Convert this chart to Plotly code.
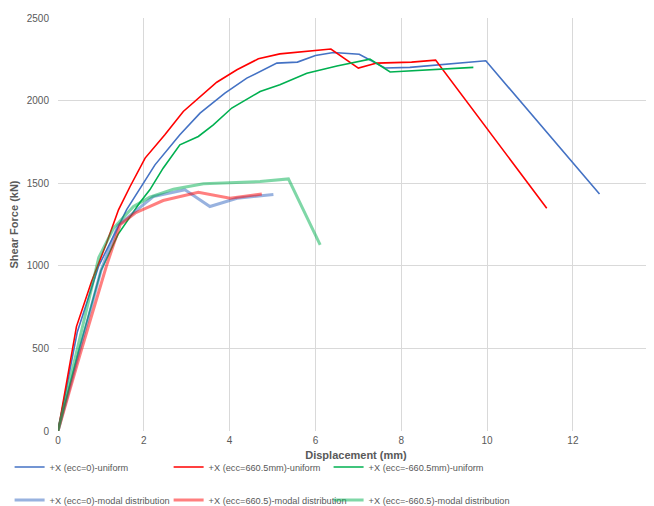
import plotly.graph_objects as go

# +X (ecc=0)-uniform
x_ecc0_uni = [0, 0.45, 0.95, 1.6, 2.26, 2.84, 3.31, 3.89, 4.4, 5.1, 5.58, 6.0, 6.42, 7.02, 7.62, 8.2, 9.97, 12.62]
y_ecc0_uni = [0, 600, 1000, 1340, 1611, 1793, 1924, 2045, 2136, 2227, 2233, 2273, 2291, 2281, 2197, 2201, 2241, 1434]

# +X (ecc=660.5mm)-uniform
x_pos_uni = [0, 0.43, 0.78, 1.13, 1.41, 1.68, 2.03, 2.49, 2.92, 3.31, 3.70, 4.17, 4.67, 5.17, 5.64, 6.36, 7.0, 7.43, 8.24, 8.8, 11.39]
y_pos_uni = [0, 632, 904, 1137, 1339, 1480, 1652, 1793, 1934, 2025, 2111, 2187, 2253, 2283, 2294, 2312, 2197, 2227, 2233, 2245, 1349]

# +X (ecc=-660.5mm)-uniform
x_neg_uni = [0, 0.5, 1.0, 1.4, 1.9, 2.14, 2.45, 2.84, 3.27, 3.62, 4.05, 4.71, 5.17, 5.8, 6.5, 7.27, 7.74, 9.68]
y_neg_uni = [0, 500, 970, 1190, 1380, 1460, 1591, 1732, 1783, 1853, 1955, 2055, 2096, 2166, 2210, 2251, 2173, 2201]

# +X (ecc=0)-modal distribution
x_ecc0_mod = [0, 0.5, 1.0, 1.4, 1.9, 2.22, 2.96, 3.54, 4.17, 5.02]
y_ecc0_mod = [0, 490, 970, 1245, 1350, 1419, 1460, 1359, 1409, 1431]

# +X (ecc=660.5)-modal distribution
x_pos_mod = [0, 0.5, 1.13, 1.45, 1.8, 2.45, 3.27, 4.01, 4.75]
y_pos_mod = [0, 450, 1000, 1250, 1320, 1395, 1445, 1409, 1434]

# +X (ecc=-660.5)-modal distribution
x_neg_mod = [0, 0.47, 0.95, 1.3, 1.76, 2.14, 2.69, 3.39, 4.71, 5.37, 6.11]
y_neg_mod = [0, 520, 1050, 1230, 1359, 1415, 1464, 1496, 1510, 1526, 1127]

names = [
    "+X (ecc=0)-uniform",
    "+X (ecc=660.5mm)-uniform",
    "+X (ecc=-660.5mm)-uniform",
    "+X (ecc=0)-modal distribution",
    "+X (ecc=660.5)-modal distribution",
    "+X (ecc=-660.5)-modal distribution",
]

series = [
    (x_ecc0_uni, y_ecc0_uni, "#4472C4", 1.6),
    (x_pos_uni, y_pos_uni, "#FF0000", 1.6),
    (x_neg_uni, y_neg_uni, "#00B050", 1.6),
    (x_ecc0_mod, y_ecc0_mod, "rgba(68,114,196,0.55)", 3),
    (x_pos_mod, y_pos_mod, "rgba(255,0,0,0.5)", 3),
    (x_neg_mod, y_neg_mod, "rgba(0,176,80,0.5)", 3),
]

leg_x = [-0.0812, 0.1856, 0.454]
leg_y = [-0.087, -0.167]

fig = go.Figure()
legends = {}
for i, (xs, ys, c, w) in enumerate(series):
    key = "legend" if i == 0 else f"legend{i + 1}"
    fig.add_trace(go.Scatter(x=xs, y=ys, mode="lines", name=names[i],
                             line=dict(color=c, width=w), legend=key))
    legends[key] = dict(orientation="h", xanchor="left", yanchor="middle",
                        x=leg_x[i % 3], y=leg_y[i // 3], bgcolor="rgba(0,0,0,0)",
                        font=dict(family="Arial", size=9.2, color="#595959"), itemwidth=30)

fig.update_layout(
    width=654, height=506,
    margin=dict(l=50, r=8, t=10, b=83, autoexpand=False),
    paper_bgcolor="white", plot_bgcolor="white",
    font=dict(family="Arial", color="#595959"),
    showlegend=True,
    xaxis=dict(range=[0, 13.89], dtick=2, tick0=0, showgrid=True, gridcolor="#D9D9D9", gridwidth=1,
               zeroline=False, showline=False, tickfont=dict(size=10, color="#595959"), automargin=False,
               title=dict(text="<b>Displacement (mm)</b>", font=dict(size=11, color="#595959"), standoff=6),
               ticklabelstandoff=2),
    yaxis=dict(range=[0, 2500], dtick=500, showgrid=True, gridcolor="#D9D9D9", gridwidth=1,
               zeroline=False, showline=False, tickfont=dict(size=10, color="#595959"), automargin=False,
               title=dict(text="<b>Shear Force (kN)</b>", font=dict(size=11, color="#595959"), standoff=10),
               ticklabelstandoff=8),
)
fig.update_layout(**legends)

fig.write_html("out.html")
